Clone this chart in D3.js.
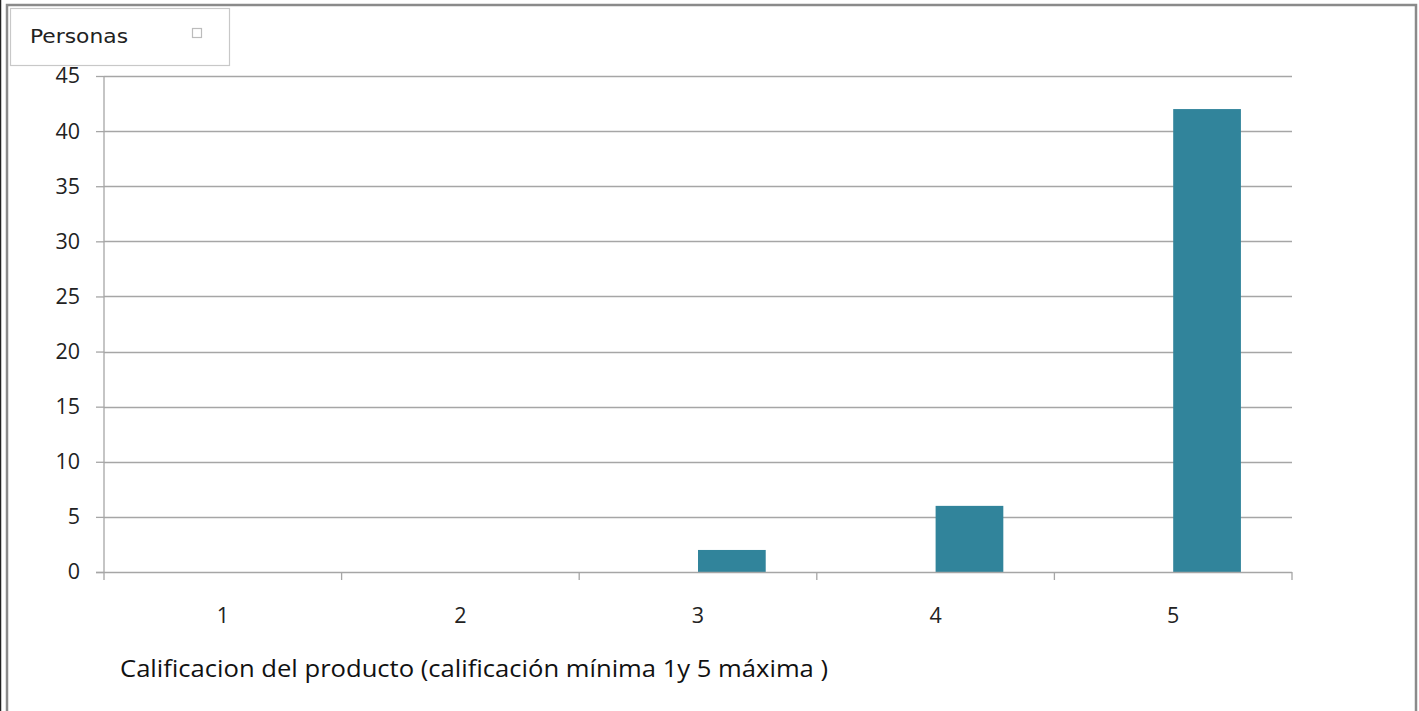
<!DOCTYPE html>
<html>
<head>
<meta charset="utf-8">
<script src="https://cdn.jsdelivr.net/npm/d3@7"></script>
<style>
  html, body { margin: 0; padding: 0; background: #fff; }
  svg { display: block; }
</style>
</head>
<body>
<svg id="chart" width="1419" height="711"></svg>
<script>
// Ratings given to the product and how many people chose each one
const categories = ["1", "2", "3", "4", "5"];
const personas = [0, 0, 2, 6, 42];
const yTicks = [0, 5, 10, 15, 20, 25, 30, 35, 40, 45];
const seriesName = "Personas";
const xTitle = "Calificacion del producto (calificación mínima 1y 5 máxima )";

const svg = d3.select("#chart");
const W = 1419, H = 711;
const plot = { left: 104, right: 1292, top: 76, bottom: 572 };

const font = "'Open Sans', 'Liberation Sans', sans-serif";
const gridColor = "#a6a6a6";
const barColor = "#31849b";

// frame of the chart object
svg.append("rect").attr("x", 0).attr("y", 0).attr("width", W).attr("height", H).attr("fill", "#fff");
svg.append("line").attr("x1", 0.5).attr("x2", 0.5).attr("y1", 0).attr("y2", H)
  .attr("stroke", "#222").attr("stroke-width", 1.5);
svg.append("path")
  .attr("d", `M7,${H} V5 H1416 V${H}`)
  .attr("fill", "none").attr("stroke", "#8a8a8a").attr("stroke-width", 2.5);

const x = d3.scaleBand().domain(categories).range([plot.left, plot.right]).padding(0);
const y = d3.scaleLinear().domain([0, 45]).range([plot.bottom, plot.top]);

// horizontal gridlines and y axis
const yAxis = d3.axisLeft(y).tickValues(yTicks).tickSize(8).tickPadding(16).tickFormat(d3.format("d"));
const gy = svg.append("g").attr("transform", `translate(${plot.left},0)`).call(yAxis);
gy.select(".domain").attr("stroke", gridColor).attr("stroke-width", 1.3).attr("d", `M0,${plot.top}V${plot.bottom}`);
gy.selectAll(".tick line").attr("stroke", gridColor).attr("stroke-width", 1.3);
gy.selectAll(".tick text").attr("font-family", font).attr("font-size", 21.5).attr("fill", "#222");

svg.append("g").selectAll("line").data(yTicks.filter(d => d > 0)).join("line")
  .attr("x1", plot.left).attr("x2", plot.right)
  .attr("y1", d => Math.round(y(d)) + 0.5).attr("y2", d => Math.round(y(d)) + 0.5)
  .attr("stroke", gridColor).attr("stroke-width", 1.3);

// bars: each sits in the right half of its category slot
const bw = x.bandwidth();
svg.append("g").selectAll("rect").data(categories.map((c, i) => ({ c, v: personas[i] })).filter(d => d.v > 0))
  .join("rect")
  .attr("x", d => x(d.c) + bw / 2)
  .attr("y", d => y(d.v))
  .attr("width", bw * 0.285)
  .attr("height", d => y(0) - y(d.v))
  .attr("fill", barColor);

// category axis
svg.append("line").attr("x1", plot.left - 8).attr("x2", plot.right)
  .attr("y1", plot.bottom + 0.5).attr("y2", plot.bottom + 0.5)
  .attr("stroke", gridColor).attr("stroke-width", 1.3);
const bounds = categories.map(c => x(c)).concat([plot.right]);
svg.append("g").selectAll("line").data(bounds).join("line")
  .attr("x1", d => d).attr("x2", d => d)
  .attr("y1", plot.bottom).attr("y2", plot.bottom + 8)
  .attr("stroke", gridColor).attr("stroke-width", 1.3);
svg.append("g").selectAll("text").data(categories).join("text")
  .attr("x", d => x(d) + bw / 2)
  .attr("y", 623)
  .attr("text-anchor", "middle")
  .attr("font-family", font).attr("font-size", 21.5).attr("fill", "#222")
  .text(d => d);

// axis title
svg.append("text").attr("x", 120).attr("y", 677)
  .attr("font-family", font).attr("font-size", 23.5).attr("fill", "#111")
  .attr("textLength", 708).attr("lengthAdjust", "spacingAndGlyphs")
  .text(xTitle);

// legend box
const lg = svg.append("g");
lg.append("rect").attr("x", 10.5).attr("y", 8.5).attr("width", 219).attr("height", 57)
  .attr("fill", "#fff").attr("stroke", "#c8c8c8").attr("stroke-width", 1.2);
lg.append("text").attr("x", 30).attr("y", 43)
  .attr("font-family", "'DejaVu Sans', sans-serif").attr("font-size", 19).attr("fill", "#222")
  .attr("textLength", 98).attr("lengthAdjust", "spacingAndGlyphs")
  .text(seriesName);
lg.append("rect").attr("x", 192.5).attr("y", 28.5).attr("width", 9).attr("height", 9)
  .attr("fill", "#fff").attr("stroke", "#bcbcbc").attr("stroke-width", 1.2);
</script>
</body>
</html>
